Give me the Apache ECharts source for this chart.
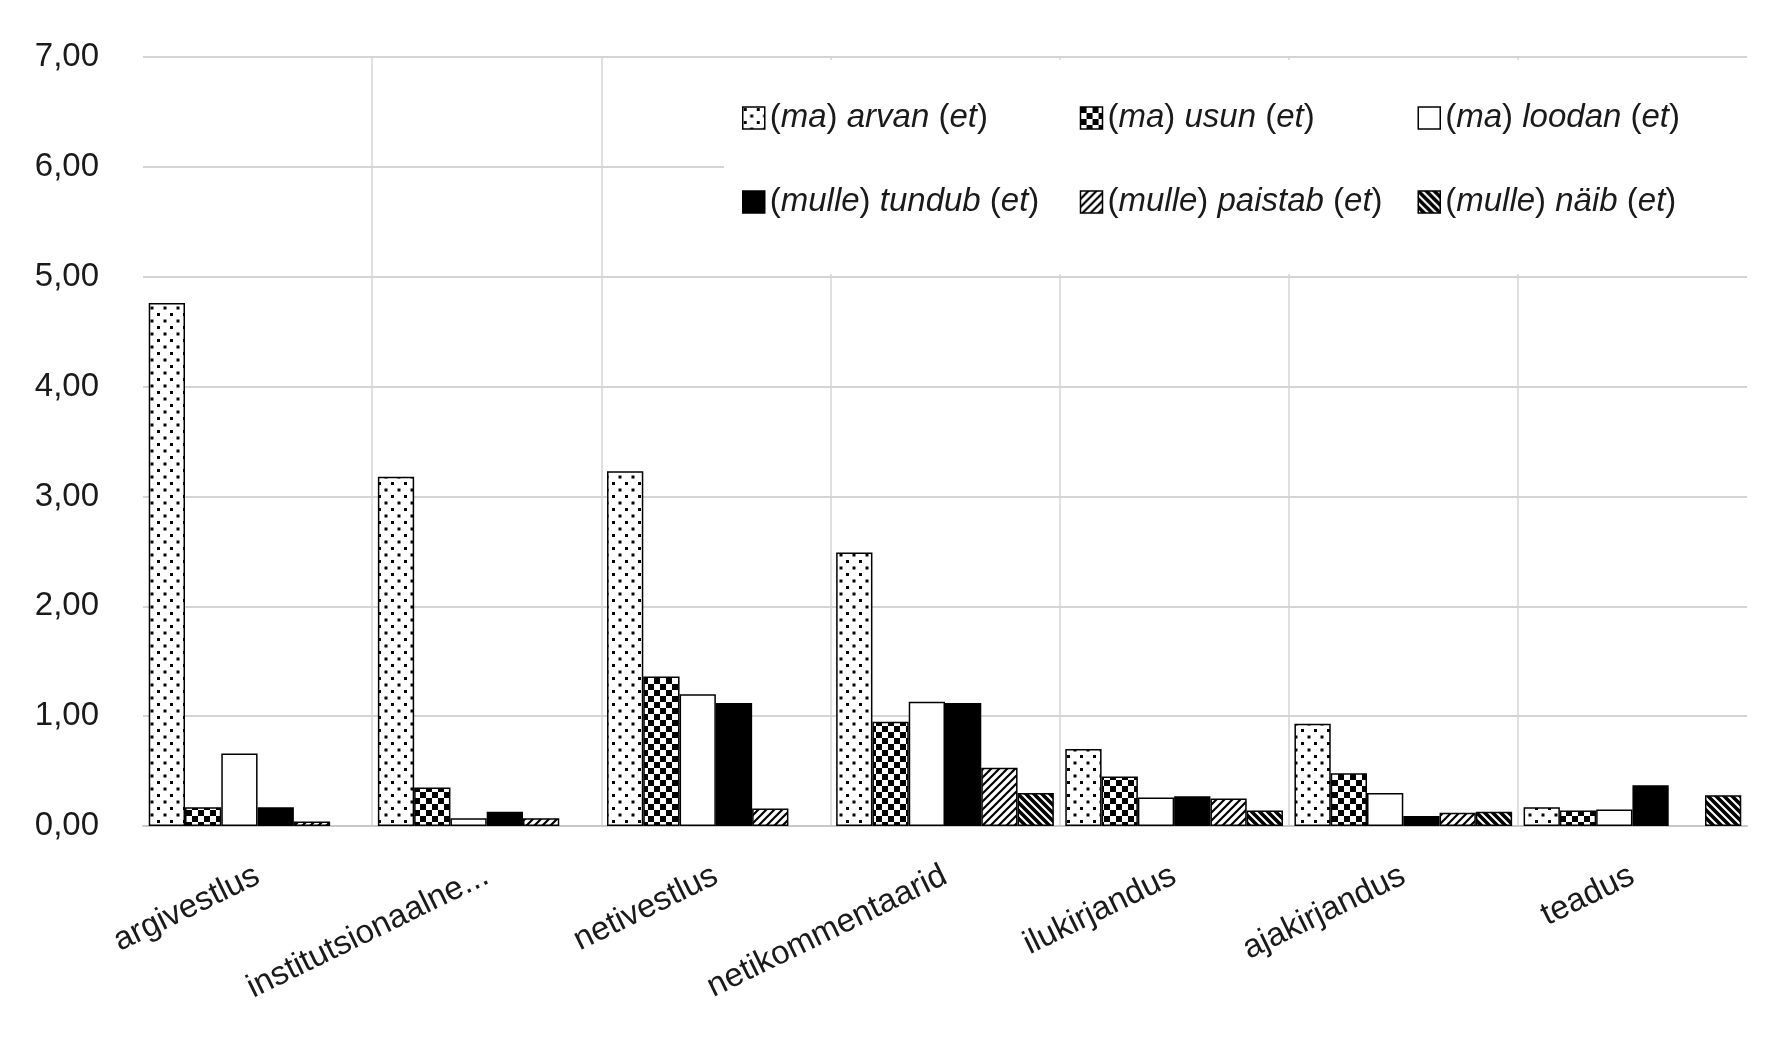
<!DOCTYPE html>
<html>
<head>
<meta charset="utf-8">
<script src="https://cdn.jsdelivr.net/npm/echarts@6/dist/echarts.min.js"></script>
<style>
  html, body { margin: 0; padding: 0; background: #fff; }
  #chart { width: 1770px; height: 1041px; }
</style>
</head>
<body>
<div id="chart"></div>
<script>
// ---- data ----
const categories = ['argivestlus', 'institutsionaalne...', 'netivestlus', 'netikommentaarid', 'ilukirjandus', 'ajakirjandus', 'teadus'];
const seriesNames = ['(ma) arvan (et)', '(ma) usun (et)', '(ma) loodan (et)', '(mulle) tundub (et)', '(mulle) paistab (et)', '(mulle) näib (et)'];
const arvan   = [4.76, 3.18, 3.23, 2.49, 0.70, 0.93, 0.17];
const usun    = [0.17, 0.35, 1.36, 0.95, 0.45, 0.48, 0.14];
const loodan  = [0.66, 0.07, 1.20, 1.13, 0.26, 0.30, 0.15];
const tundub  = [0.17, 0.13, 1.12, 1.12, 0.27, 0.09, 0.37];
const paistab = [0.04, 0.07, 0.16, 0.53, 0.25, 0.12, 0];
const naib    = [0, 0, 0, 0.30, 0.14, 0.13, 0.28];
const yTickLabels = ['0,00', '1,00', '2,00', '3,00', '4,00', '5,00', '6,00', '7,00'];

const FONT = "'Liberation Sans', Arial, sans-serif";
const TEXT = '#1a1a1a';

// ---- patterns ----
function tile(w, h, draw) {
  const c = document.createElement('canvas');
  c.width = w; c.height = h;
  const ctx = c.getContext('2d');
  ctx.fillStyle = '#fff';
  ctx.fillRect(0, 0, w, h);
  ctx.fillStyle = '#000';
  ctx.strokeStyle = '#000';
  draw(ctx, w, h);
  return { image: c, repeat: 'repeat' };
}
const patterns = [
  tile(13, 13, (ctx) => { ctx.fillRect(1, 1, 3, 3); ctx.fillRect(7.5, 7.5, 3, 3); }),
  tile(12, 12, (ctx) => { ctx.fillRect(0, 0, 6, 6); ctx.fillRect(6, 6, 6, 6); }),
  '#ffffff',
  '#000000',
  tile(8, 8, (ctx, w, h) => {
    ctx.lineWidth = 2.2;
    ctx.beginPath();
    ctx.moveTo(-2, h + 2); ctx.lineTo(w + 2, -2);
    ctx.moveTo(-2, 2); ctx.lineTo(2, -2);
    ctx.moveTo(w - 2, h + 2); ctx.lineTo(w + 2, h - 2);
    ctx.stroke();
  }),
  tile(8, 8, (ctx, w, h) => {
    ctx.lineWidth = 3.6;
    ctx.beginPath();
    ctx.moveTo(-2, -2); ctx.lineTo(w + 2, h + 2);
    ctx.moveTo(w - 2, -2); ctx.lineTo(w + 2, 2);
    ctx.moveTo(-2, h - 2); ctx.lineTo(2, h + 2);
    ctx.stroke();
  })
];
const values = [arvan, usun, loodan, tundub, paistab, naib];

const series = seriesNames.map((name, i) => ({
  name: name,
  type: 'bar',
  barGap: '0%',
  barCategoryGap: '5%',
  data: values[i].map(v => (v === 0 ? null : v)),
  itemStyle: { color: patterns[i], borderColor: '#000', borderWidth: 1.5 }
}));

function legendFormatter(name) {
  // (pronoun) verb (et) : words italic, brackets upright
  const m = name.match(/^\((\S+)\) (\S+) \((\S+)\)$/);
  if (!m) return name;
  return '({i|' + m[1] + '}) {i|' + m[2] + '} ({i|' + m[3] + '})';
}

const chart = echarts.init(document.getElementById('chart'), null, { renderer: 'canvas' });
chart.setOption({
  backgroundColor: '#ffffff',
  animation: false,
  grid: { left: 143, right: 23, top: 57, bottom: 215, containLabel: false },
  xAxis: {
    type: 'category',
    data: categories,
    axisLine: { show: true, lineStyle: { color: '#c8c8c8', width: 2 } },
    axisTick: { show: false },
    splitLine: { show: true, showMinLine: false, showMaxLine: false, lineStyle: { color: '#d4d4d4', width: 1.5 } },
    axisLabel: {
      interval: 0, rotate: 26, margin: 48,
      fontFamily: FONT, fontSize: 33, color: TEXT
    }
  },
  yAxis: {
    type: 'value',
    min: 0, max: 7, interval: 1,
    axisLine: { show: false },
    axisTick: { show: false },
    splitLine: { show: true, lineStyle: { color: '#d4d4d4', width: 2 } },
    axisLabel: {
      margin: 44, fontFamily: FONT, fontSize: 33, color: TEXT,
      formatter: (v) => yTickLabels[Math.round(v)]
    }
  },
  legend: {
    data: seriesNames,
    left: 724, top: 60,
    width: 1022,
    padding: [21, 4, 35, 18],
    backgroundColor: '#ffffff',
    icon: 'rect',
    itemWidth: 22, itemHeight: 22, itemGap: 10,
    itemStyle: { borderColor: '#000', borderWidth: 1.5 },
    formatter: legendFormatter,
    textStyle: {
      fontFamily: FONT, fontSize: 33, color: TEXT,
      width: 300, height: 74, lineHeight: 74,
      rich: { i: { fontFamily: FONT, fontSize: 33, fontStyle: 'italic', color: TEXT, lineHeight: 74 } }
    }
  },
  series: series
});
</script>
</body>
</html>
